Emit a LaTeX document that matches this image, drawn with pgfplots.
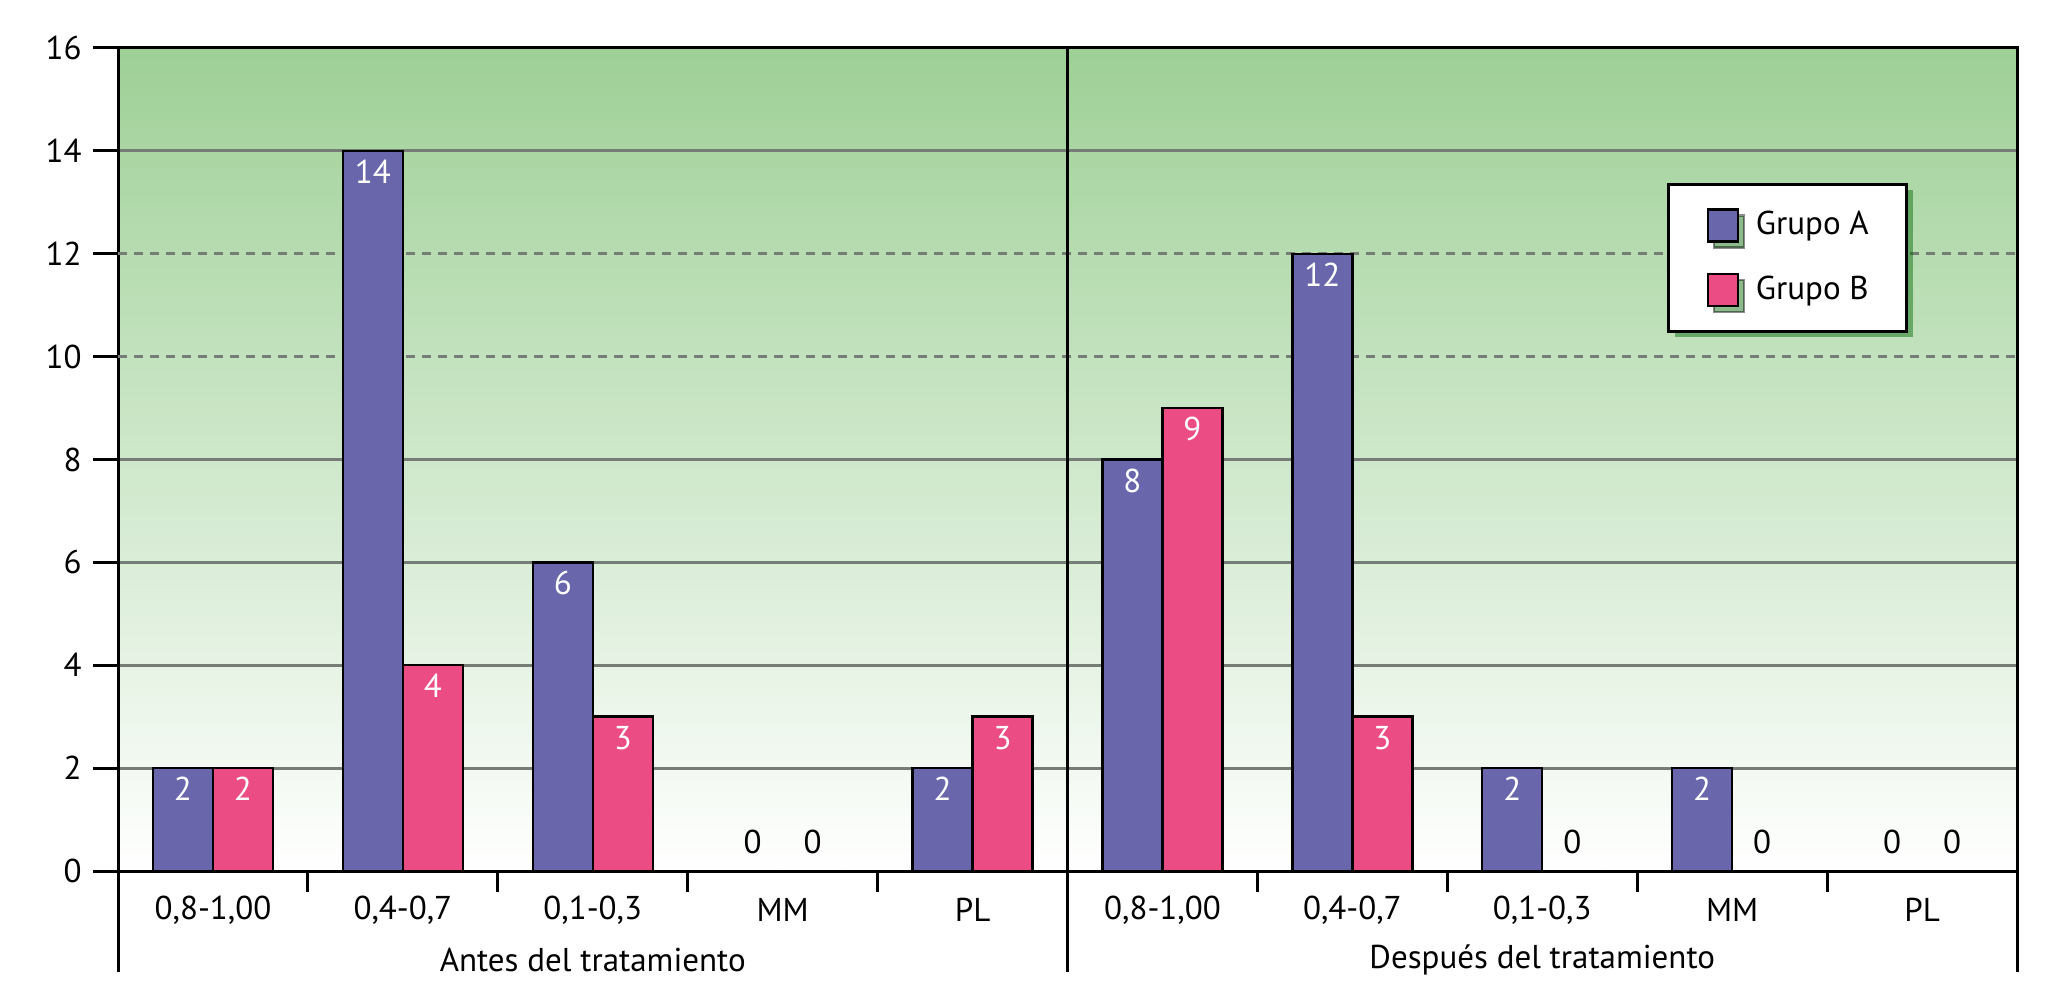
\documentclass[border=0pt]{standalone}
\usepackage{fontspec}
\setmainfont{PT Sans}
\usepackage{pgfplots}
\pgfplotsset{compat=1.18}
\usetikzlibrary{shadows}
\definecolor{grpA}{RGB}{105,102,172}
\definecolor{grpB}{RGB}{236,76,132}
\definecolor{gridgray}{RGB}{118,124,118}
\definecolor{bgtop}{RGB}{158,208,150}

\begin{document}
\fontsize{16.5bp}{20bp}\selectfont
\begin{tikzpicture}
\path[use as bounding box] (-59bp,-60bp) rectangle (972bp,435.5bp);
\begin{axis}[
  at={(0,0)}, anchor=south west,
  scale only axis, width=949.5bp, height=411.5bp,
  xmin=-0.5, xmax=9.5, ymin=0, ymax=16,
  clip=false,
  ybar=0pt, bar width=30bp,
  /pgf/number format/assume math mode=true,
  axis background/.style={shade, top color=bgtop, bottom color=white},
  axis line style={line width=1.5bp, black},
  xtick={0,...,9},
  xticklabels={{0,8-1,00},{0,4-0,7},{0,1-0,3},MM,PL,{0,8-1,00},{0,4-0,7},{0,1-0,3},MM,PL},
  xtick style={draw=none},
  xticklabel style={anchor=center, yshift=-7bp},
  ytick={0,2,4,6,8,14,16},
  extra y ticks={10,12},
  extra y tick style={grid style={gridgray, line width=1.4bp, dash pattern=on 4.5bp off 3.5bp}},
  ytick pos=left,
  tick align=outside,
  major tick length=12.5bp,
  ytick style={line width=1.5bp, black},
  ymajorgrids,
  grid style={gridgray, line width=1.4bp},
  legend style={at={(0.8157,0.836)}, anchor=north west, draw=black, line width=1.5bp,
    fill=white, drop shadow={shadow xshift=3bp, shadow yshift=-3bp, fill=black!60!green, opacity=0.45},
    inner xsep=19bp, inner ysep=12bp, row sep=15bp, nodes={inner sep=0pt}},
  legend cell align=left,
  legend image code/.code={
    \draw[#1, line width=1.2bp] (0bp,-8bp) rectangle (15bp,8bp);
    \path (23.5bp,0bp);},
  nodes near coords,
  every node near coord/.append style={anchor=center, yshift=-10.5bp},
  coordinate style/.condition={y==0}{yshift=25bp},
  coordinate style/.condition={y>0}{text=white},
]
\addplot[fill=grpA, draw=black, line width=1.2bp]
  coordinates {(0,2) (1,14) (2,6) (3,0) (4,2) (5,8) (6,12) (7,2) (8,2) (9,0)};
\addlegendentry{Grupo A}
\addplot[fill=grpB, draw=black, line width=1.2bp]
  coordinates {(0,2) (1,4) (2,3) (3,0) (4,3) (5,9) (6,3) (7,0) (8,0) (9,0)};
\addlegendentry{Grupo B}

\draw[line width=1.5bp] (axis cs:-0.5,0) -- ([yshift=-50.5bp]axis cs:-0.5,0);
\draw[line width=1.5bp] (axis cs:9.5,0) -- ([yshift=-50.5bp]axis cs:9.5,0);
\draw[line width=1.5bp] (axis cs:4.5,16) -- ([yshift=-50.5bp]axis cs:4.5,0);
\pgfplotsinvokeforeach{0.5,1.5,2.5,3.5,5.5,6.5,7.5,8.5}{
  \draw[line width=1.5bp] (axis cs:#1,0) -- ([yshift=-10.5bp]axis cs:#1,0);
}
\node[yshift=-44.5bp] at (axis cs:2,0) {Antes del tratamiento};
\node[yshift=-44.5bp] at (axis cs:7,0) {Después del tratamiento};
\end{axis}
\end{tikzpicture}
\end{document}
